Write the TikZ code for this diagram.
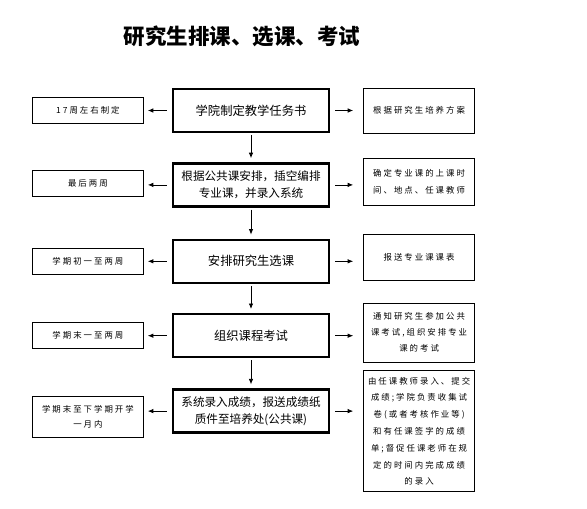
\documentclass[tikz,border=0pt]{standalone}
\usepackage{fontspec}
\setmainfont{Noto Sans CJK SC}
\newfontfamily\sidefont[LetterSpace=24]{Noto Sans CJK SC}
\usetikzlibrary{arrows.meta, positioning}
\tikzset{
  mainblock/.style={rectangle, draw=black, line width=2.4pt,
    minimum width=156pt, minimum height=43pt, align=center,
    font=\fontsize{12.3}{16.7}\selectfont, inner sep=2pt},
  twoline/.style={font=\fontsize{11.6}{16.7}\selectfont},
  sideblock/.style={rectangle, draw=black, line width=0.8pt,
    minimum width=111pt, minimum height=26pt, align=center,
    font=\sidefont\fontsize{8.4}{16.5}\selectfont, inner sep=2pt},
  arrow/.style={-{Latex[length=5.5pt,width=4.5pt]}, line width=0.8pt},
  leftarrow/.style={arrow, shorten <=5pt, shorten >=4pt},
  rightarrow/.style={arrow, shorten <=5pt, shorten >=10pt},
  downarrow/.style={arrow, shorten <=2pt, shorten >=4pt}
}

\begin{document}
\begin{tikzpicture}[x=1pt, y=-1pt]
  \useasboundingbox[fill=white] (0,0) rectangle (587,509);

  \node[font=\bfseries\fontsize{21.5}{25}\selectfont] (title) at (242,36) {研究生排课、选课、考试};

  % main steps
  \node[mainblock] (task) at (251,110.5) {学院制定教学任务书};
  \node[mainblock, twoline, below=29pt of task] (arrange) {根据公共课安排，插空编排\\专业课，并录入系统};
  \node[mainblock, below=31pt of arrange] (select) {安排研究生选课};
  \node[mainblock, below=29pt of select] (exam) {组织课程考试};
  \node[mainblock, twoline, below=30pt of exam] (grade) {系统录入成绩，报送成绩纸\\质件至培养处(公共课)};

  % time notes
  \node[sideblock, left=28pt of task] (t1) {17周左右制定};
  \node[sideblock, left=28pt of arrange, yshift=1.5pt] (t2) {最后两周};
  \node[sideblock, left=28pt of select] (t3) {学期初一至两周};
  \node[sideblock, left=28pt of exam] (t4) {学期末一至两周};
  \node[sideblock, left=28pt of grade, yshift=-6pt, minimum height=41pt, font=\sidefont\fontsize{8.4}{15}\selectfont] (t5) {学期末至下学期开学\\一月内};

  % remarks
  \node[sideblock, right=33pt of task, minimum height=45pt] (r1) {根据研究生培养方案};
  \node[sideblock, right=33pt of arrange, yshift=3pt, minimum height=47pt] (r2) {确定专业课的上课时\\间、地点、任课教师};
  \node[sideblock, right=33pt of select, yshift=3.5pt, minimum height=46pt] (r3) {报送专业课课表};
  \node[sideblock, right=33pt of exam, yshift=3pt, minimum height=59pt, font=\sidefont\fontsize{8.4}{16}\selectfont] (r4) {通知研究生参加公共\\课考试,组织安排专业\\课的考试};
  \node[sideblock, below right=-18pt and 33pt of grade.north east, minimum height=121pt, font=\sidefont\fontsize{8.4}{16.8}\selectfont] (r5) {由任课教师录入、提交\\成绩;学院负责收集试\\卷(或者考核作业等)\\和有任课签字的成绩\\单;督促任课老师在规\\定的时间内完成成绩\\的录入};

  \draw[downarrow] (task) -- (arrange);
  \draw[downarrow] (arrange) -- (select);
  \draw[downarrow] (select) -- (exam);
  \draw[downarrow] (exam) -- (grade);

  \foreach \c/\l/\r in {task/t1/r1, arrange/t2/r2, select/t3/r3, exam/t4/r4, grade/t5/r5} {
    \draw[leftarrow] (\c.west) -- (\c.west -| \l.east);
    \draw[rightarrow] (\c.east) -- (\c.east -| \r.west);
  }
\end{tikzpicture}
\end{document}
